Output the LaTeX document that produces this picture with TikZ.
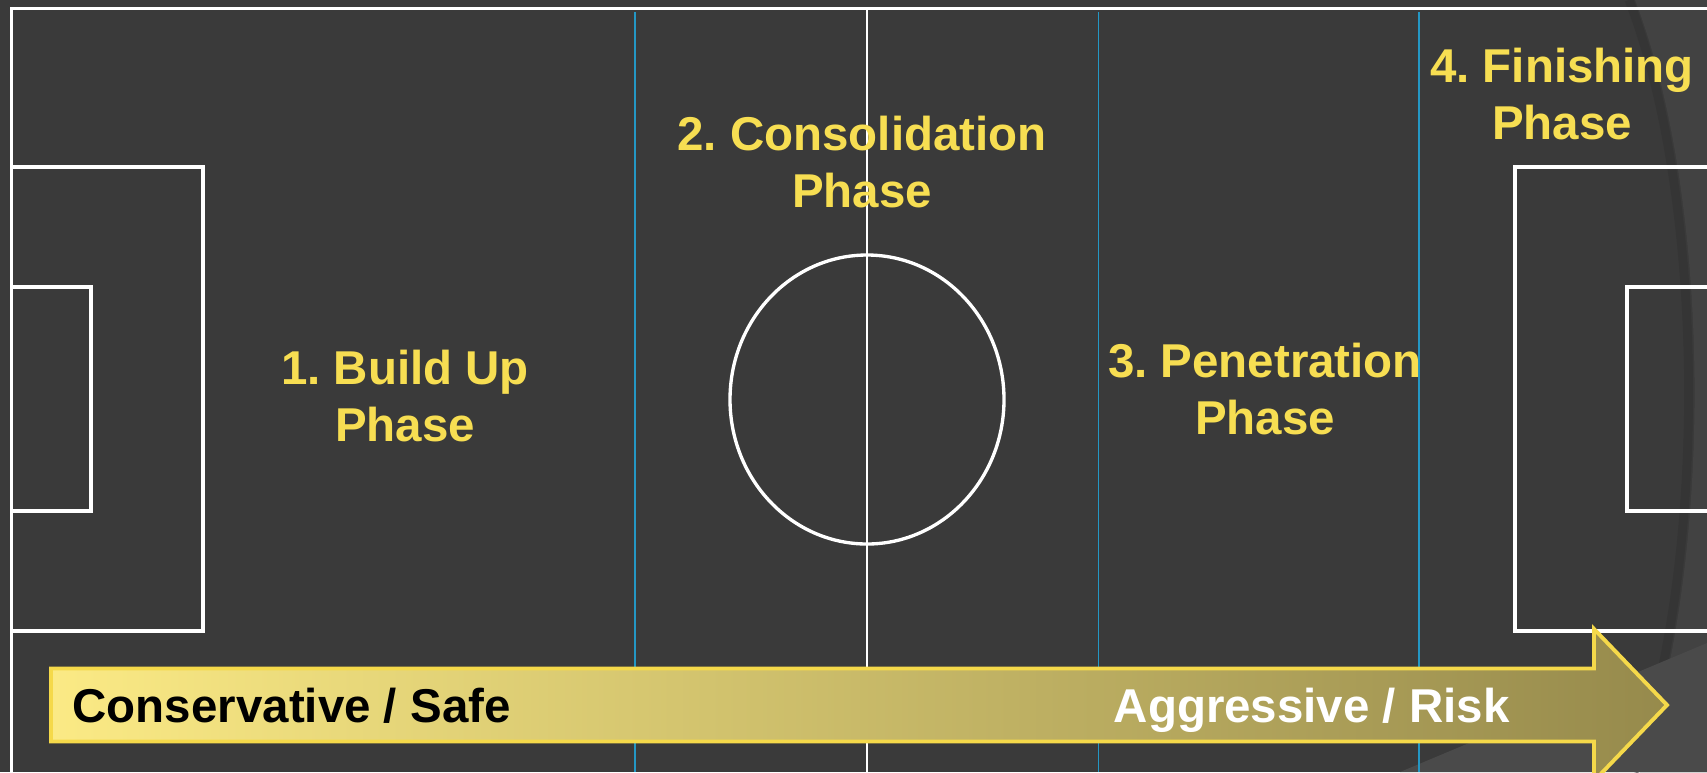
\documentclass[tikz,border=0pt]{standalone}
\usepackage{fontspec}
\setmainfont{Liberation Sans}
\frenchspacing

\definecolor{pitchbg}{HTML}{3A3A3A}
\definecolor{swoosh}{HTML}{424242}
\definecolor{swooshedge}{HTML}{323232}
\definecolor{swooshlow}{HTML}{4A4A4A}
\definecolor{zoneblue}{HTML}{2497C4}
\definecolor{phaseyellow}{HTML}{F7DE52}
\definecolor{arrowedge}{HTML}{F5D94A}
\definecolor{safecol}{HTML}{FBEA85}
\definecolor{midcol}{HTML}{D9C66E}
\definecolor{riskcol}{HTML}{968A4C}

\begin{document}
\begin{tikzpicture}[x=0.01cm,y=-0.01cm,
  pitch/.style={draw=white,line width=1.1pt},
  zone/.style={draw=zoneblue,line width=0.5pt},
  phase/.style={text=phaseyellow,font=\fontsize{13.5}{16.2}\selectfont\bfseries,
    align=center,inner sep=0pt,anchor=base},
  gauge/.style={font=\fontsize{13.5}{16.2}\selectfont\bfseries,inner sep=0pt,anchor=base west}]

\useasboundingbox (0,0) rectangle (1707,772);
\clip (0,0) rectangle (1707,772);
\fill[pitchbg] (0,0) rectangle (1707,772);

% background swooshes
\fill[swoosh] (1635,0) .. controls (1712,200) and (1715,560) .. (1640,772) -- (1707,772) -- (1707,0) -- cycle;
\draw[swooshedge,line width=2.5pt,opacity=0.6] (1629,0) .. controls (1706,200) and (1709,560) .. (1634,772);
\fill[swooshlow] (1400,772) -- (1707,643) -- (1707,772) -- cycle;

% thirds of the pitch
\foreach \x in {635,1098.5,1419}
  \draw[zone] (\x,12) -- (\x,772);

% pitch markings
\coordinate (tl) at (11.5,8.5);
\coordinate (mid) at (867,399.5);

\draw[pitch] (1720,8.5) -- (tl) -- (11.5,790);
\draw[pitch,line width=0.7pt] (867,8.5) -- (867,772);
\draw[pitch,line width=0.95pt] (mid) ellipse [x radius=137,y radius=144.5];

\draw[pitch] (11.5,167) -- (203,167) -- (203,631) -- (11.5,631);
\draw[pitch] (11.5,287) -- (91,287) -- (91,511) -- (11.5,511);
\draw[pitch] (1720,167) -- (1515,167) -- (1515,631) -- (1720,631);
\draw[pitch] (1720,287) -- (1627,287) -- (1627,511) -- (1720,511);

% phases (base = last line)
\node[phase] (build) at (405,441) {1. Build Up\\Phase};
\node[phase] (consol) at (862,207) {2. Consolidation\\Phase};
\node[phase] (penet) at (1265,434) {3. Penetration\\Phase};
\node[phase] (finish) at (1562,139) {4. Finishing\\Phase};

% risk arrow
\shade[left color=safecol,middle color=midcol,right color=riskcol]
  (51,668.5) -- (1594,668.5) -- (1594,629) -- (1667,705) -- (1594,781) -- (1594,741.5) -- (51,741.5) -- cycle;
\draw[arrowedge,line width=1.1pt,line join=miter]
  (51,668.5) -- (1594,668.5) -- (1594,629) -- (1667,705) -- (1594,781) -- (1594,741.5) -- (51,741.5) -- cycle;

\node[gauge,text=black] (safe) at (72,722.5) {Conservative / Safe};
\node[gauge,text=white] (risk) at (1113,722.5) {Aggressive / Risk};

\end{tikzpicture}
\end{document}
